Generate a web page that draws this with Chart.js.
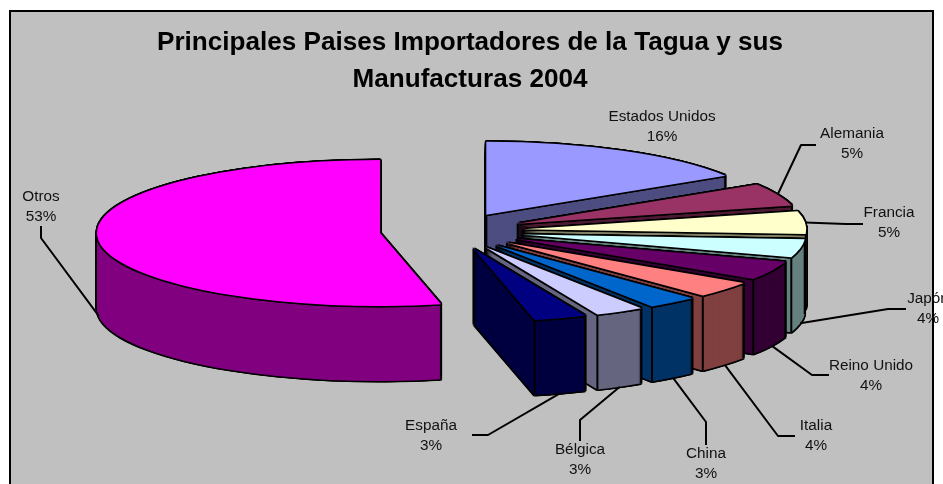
<!DOCTYPE html>
<html>
<head>
<meta charset="utf-8">
<style>
html,body{margin:0;padding:0;background:#fff;overflow:hidden}
#wrap{position:absolute;left:0;top:0;width:943px;height:484px}
</style>
<script src="https://cdn.jsdelivr.net/npm/chart.js@4"></script>
</head>
<body>
<div id="wrap"><canvas id="c" width="943" height="484"></canvas></div>
<script>
const categories = ['Estados Unidos','Alemania','Francia','Japón','Reino Unido','Italia','China','Bélgica','España','Otros'];
const shares = [16,5,5,4,4.2,3.6,2.9,2.8,3,53.4];
const topColors = ['#9999ff','#993366','#ffffcc','#ccffff','#660066','#ff8080','#0066cc','#ccccff','#000080','#ff00ff'];
const sideColors = ['#4d4d80','#4d1a33','#808066','#668080','#330033','#804040','#003366','#666680','#000040','#800080'];
const titleLines = ['Principales Paises Importadores de la Tagua y sus','Manufacturas 2004'];

// Layout of the hand-placed callouts: label centre, then the leader's elbow and end.
const labelCentres = [[662,126],[852,143],[889,222],[928,308],[871,375],[816,435],[706,463],[580,459],[431,435],[41,206]];
const leaderElbows = [null,[[801,145],[816,145]],[[846,224],[863,224]],[[888,309],[906,309]],[[812,375],[829,375]],[[778,436],[795,436]],[[706,422],[706,445]],[[580,420],[580,441]],[[488,435],[472,435]],[[41,238],[41,226]]];

const pie = {cx:451.6, cy:231, radius:283, squash:0.258, explode:72, depth:75};
const ring = [[-1.3,-1.3],[0,-1.5],[1.3,-1.3],[-1.5,0],[1.5,0],[-1.3,1.3],[0,1.5],[1.3,1.3]];

function paintArc(ctx, arc, color, ox, oy){
  const saved = arc.options;
  arc.options = {...saved, backgroundColor:color, borderWidth:0};
  ctx.save();
  ctx.translate(pie.cx + ox, pie.cy + oy);
  ctx.scale(1, pie.squash);
  ctx.translate(-arc.x, -arc.y);
  arc.draw(ctx);
  ctx.restore();
  arc.options = saved;
}

const pie3d = {
  id:'pie3d',
  beforeDraw(chart){
    const ctx = chart.ctx;
    ctx.save();
    ctx.fillStyle = '#ffffff';
    ctx.fillRect(0,0,chart.width,chart.height);
    ctx.fillStyle = '#c0c0c0';
    ctx.fillRect(10,11,923,chart.height);
    ctx.strokeStyle = '#000';
    ctx.lineWidth = 2;
    ctx.strokeRect(10,11,923,chart.height + 10);
    ctx.restore();
  },
  beforeDatasetsDraw(chart){
    const ctx = chart.ctx;
    const arcs = chart.getDatasetMeta(0).data;
    arcs.forEach((arc,i)=>{
      const a = arc.startAngle + Math.PI/2, b = arc.endAngle + Math.PI/2, m = (a+b)/2;
      const ox = Math.sin(m)*pie.explode, oy = -Math.cos(m)*pie.explode*pie.squash;
      // black silhouette of the extruded wedge
      for(let k=pie.depth;k>=0;k--) for(const [dx,dy] of ring) paintArc(ctx,arc,'#000',ox+dx,oy+k+dy);
      // side faces
      for(let k=pie.depth;k>=1;k--) paintArc(ctx,arc,sideColors[i],ox,oy+k);
      // vertical edges between visible faces
      const eps = 1e-6;
      const startFace = Math.sin(a) < -eps, endFace = Math.sin(b) > eps;
      const corners = [];
      if(startFace||endFace) corners.push(0);
      if(startFace||Math.cos(a) < -eps) corners.push(a);
      if(endFace||Math.cos(b) < -eps) corners.push(b);
      ctx.save();
      ctx.strokeStyle='#000'; ctx.lineWidth=2;
      corners.forEach(t=>{
        const r = t===0 ? 0 : pie.radius;
        const x = pie.cx+ox+Math.sin(t)*r, y = pie.cy+oy-Math.cos(t)*r*pie.squash;
        ctx.beginPath(); ctx.moveTo(x,y); ctx.lineTo(x,y+pie.depth); ctx.stroke();
      });
      ctx.restore();
      // top face
      for(const [dx,dy] of ring) paintArc(ctx,arc,'#000',ox+dx,oy+dy);
      paintArc(ctx,arc,topColors[i],ox,oy);
    });
    return false;
  },
  afterDraw(chart){
    const ctx = chart.ctx;
    const arcs = chart.getDatasetMeta(0).data;
    const total = shares.reduce((s,v)=>s+v,0);
    ctx.save();
    ctx.strokeStyle='#000'; ctx.lineWidth=2; ctx.lineJoin='round';
    arcs.forEach((arc,i)=>{
      const el = leaderElbows[i];
      if(el){
        const m = (arc.startAngle+arc.endAngle)/2 + Math.PI/2;
        const R = pie.radius + pie.explode;
        const front = Math.cos(m) < 0;
        const x = pie.cx + Math.sin(m)*R;
        const y = pie.cy - Math.cos(m)*R*pie.squash + (front?pie.depth:0);
        ctx.beginPath(); ctx.moveTo(x,y);
        el.forEach(p=>ctx.lineTo(p[0],p[1]));
        ctx.stroke();
      }
      ctx.fillStyle='#111';
      ctx.font='15.3px "Liberation Sans", Arial, sans-serif';
      ctx.textAlign='center'; ctx.textBaseline='middle';
      const [lx,ly] = labelCentres[i];
      ctx.fillText(categories[i],lx,ly-9.5);
      ctx.fillText(Math.round(shares[i]/total*100)+'%',lx,ly+10.5);
    });
    ctx.restore();
  }
};

new Chart(document.getElementById('c'),{
  type:'pie',
  data:{labels:categories,datasets:[{data:shares,backgroundColor:topColors,borderWidth:0}]},
  options:{
    responsive:false,
    animation:false,
    radius:pie.radius,
    layout:{padding:{left:0,right:3,top:0,bottom:0}},
    plugins:{
      legend:{display:false},
      tooltip:{enabled:false},
      title:{display:true,text:titleLines,color:'#000',
        font:{family:'"Liberation Sans", Arial, sans-serif',size:26.1,weight:'bold',lineHeight:1.42},
        padding:{top:24,bottom:0}}
    }
  },
  plugins:[pie3d]
});
</script>
</body>
</html>
